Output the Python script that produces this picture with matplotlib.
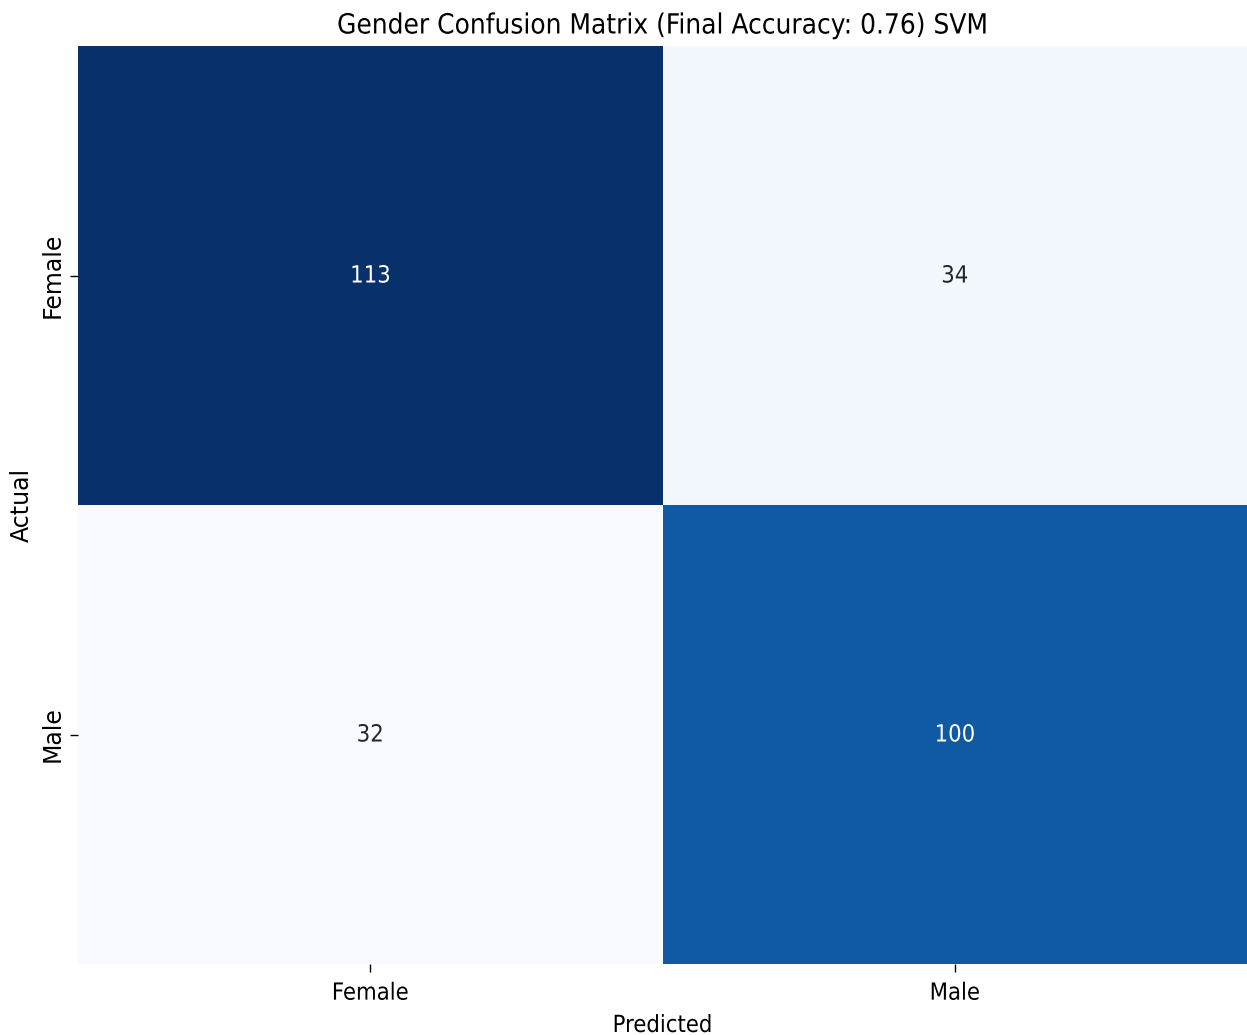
import matplotlib
matplotlib.use("Agg")
import matplotlib.pyplot as plt
from matplotlib.path import Path
from matplotlib.patheffects import AbstractPathEffect
import numpy as np
import seaborn as sns

labels = ["Female", "Male"]
matrix = np.array([[113, 34],
                   [32, 100]])
accuracy = 0.76
model_name = "SVM"


class Squeeze(AbstractPathEffect):
    """Narrow the glyph outlines horizontally around the text's own centre."""

    def __init__(self, sx=0.9):
        super().__init__()
        self.sx = sx

    def draw_path(self, renderer, gc, tpath, affine, rgbFace=None):
        v = tpath.vertices.copy()
        if len(v):
            ext = tpath.get_extents()
            cx = 0.5 * (ext.x0 + ext.x1)
            v[:, 0] = cx + (v[:, 0] - cx) * self.sx
        renderer.draw_path(gc, Path(v, tpath.codes), affine, rgbFace)


narrow = [Squeeze(0.9)]
FS = 17

fig = plt.figure(figsize=(12.47, 10.35), dpi=100)
ax = fig.add_axes([78 / 1247, 71 / 1035, 1169 / 1247, 918 / 1035])

sns.heatmap(matrix, annot=True, fmt="d", cmap="Blues", cbar=False,
            xticklabels=labels, yticklabels=labels, ax=ax,
            annot_kws=dict(fontsize=FS, path_effects=narrow))

title = ax.set_title(
    f"Gender Confusion Matrix (Final Accuracy: {accuracy:.2f}) {model_name}",
    fontsize=20, pad=9)
title.set_path_effects(narrow)
ax.set_xlabel("Predicted", fontsize=FS, labelpad=6, path_effects=narrow)
ax.set_ylabel("Actual", fontsize=FS, labelpad=5)
for t in ax.get_xticklabels():
    t.set_fontsize(FS)
    t.set_path_effects(narrow)
for t in ax.get_yticklabels():
    t.set_fontsize(FS)
    t.set_rotation(90)
    t.set_va("center")
ax.tick_params(length=6, width=1)
ax.tick_params(axis="x", pad=6)

fig.savefig("out.png", dpi=100)
